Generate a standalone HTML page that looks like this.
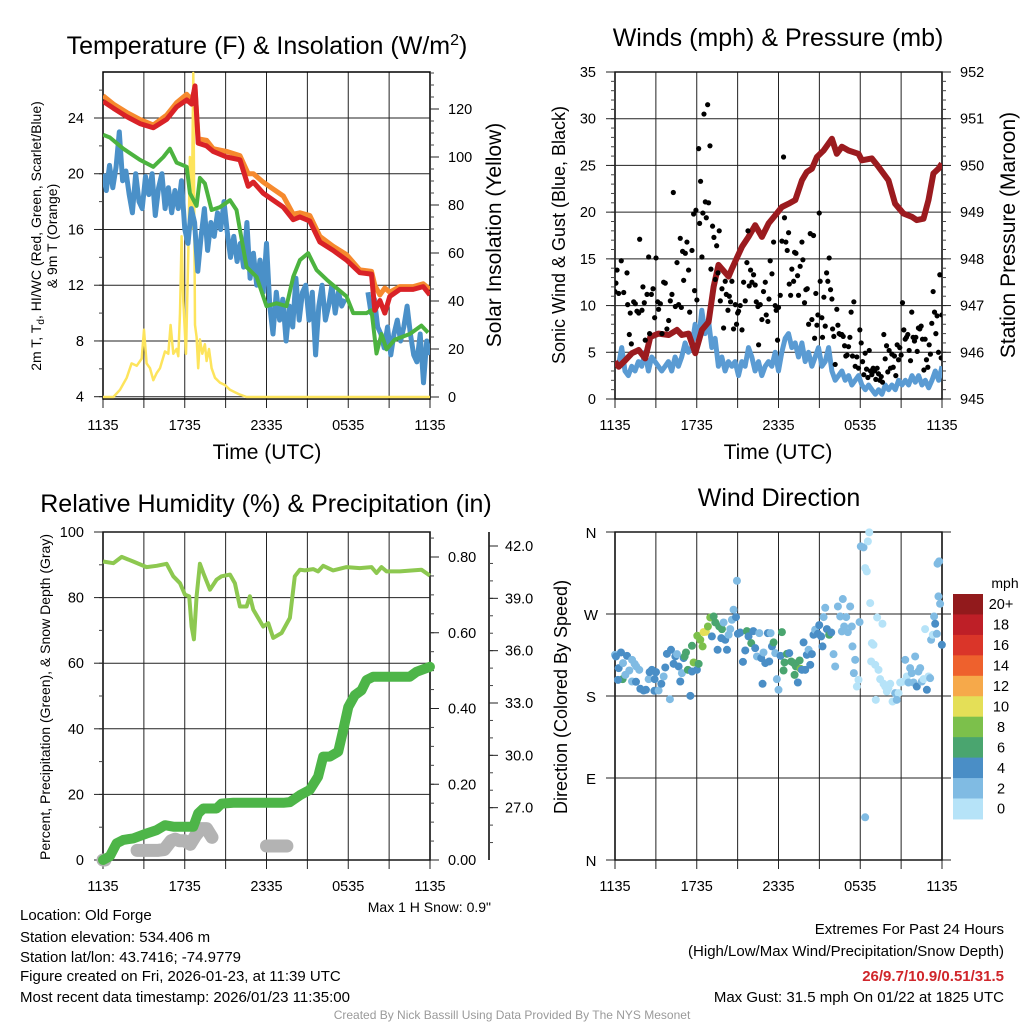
<!DOCTYPE html>
<html><head><meta charset="utf-8"><style>
body{margin:0;background:#fff}
svg{display:block;font-family:"Liberation Sans",Arial,sans-serif}
</style></head><body>
<svg id="c" width="1024" height="1024" viewBox="0 0 1024 1024">
<rect x="0" y="0" width="1024" height="1024" fill="#fff"/>
<text x="267" y="54" font-size="25" text-anchor="middle">Temperature (F) &amp; Insolation (W/m<tspan dy="-9" font-size="16">2</tspan><tspan dy="9">)</tspan></text>
<text x="778" y="46" font-size="25" text-anchor="middle">Winds (mph) &amp; Pressure (mb)</text>
<text x="266" y="512" font-size="25" text-anchor="middle">Relative Humidity (%) &amp; Precipitation (in)</text>
<text x="779" y="506" font-size="25" text-anchor="middle">Wind Direction</text>
<text x="267" y="459" font-size="21" text-anchor="middle">Time (UTC)</text>
<text x="778" y="459" font-size="21" text-anchor="middle">Time (UTC)</text>
<g transform="translate(41,236) rotate(-90)">
<text x="0" y="0" font-size="14" text-anchor="middle">2m T, T<tspan font-size="10" dy="3">d</tspan><tspan dy="-3">, HI/WC (Red, Green, Scarlet/Blue)</tspan></text>
<text x="0" y="16" font-size="14" text-anchor="middle">&amp; 9m T (Orange)</text></g>
<text transform="translate(501,235) rotate(-90)" font-size="21" text-anchor="middle">Solar Insolation (Yellow)</text>
<text transform="translate(565,235) rotate(-90)" font-size="18" text-anchor="middle">Sonic Wind &amp; Gust (Blue, Black)</text>
<text transform="translate(1015,235) rotate(-90)" font-size="21" text-anchor="middle">Station Pressure (Maroon)</text>
<text transform="translate(50,697) rotate(-90)" font-size="14" text-anchor="middle">Percent, Precipitation (Green), &amp; Snow Depth (Gray)</text>
<text transform="translate(567,697) rotate(-90)" font-size="18" text-anchor="middle">Direction (Colored By Speed)</text>
<text x="1005" y="588" font-size="14" text-anchor="middle">mph</text>
<text x="491" y="912" font-size="14" text-anchor="end">Max 1 H Snow: 0.9"</text>
<g font-size="15">
<text x="20" y="920">Location: Old Forge</text>
<text x="20" y="942">Station elevation: 534.406 m</text>
<text x="20" y="962">Station lat/lon: 43.7416; -74.9779</text>
<text x="20" y="981">Figure created on Fri, 2026-01-23, at 11:39 UTC</text>
<text x="20" y="1002">Most recent data timestamp: 2026/01/23 11:35:00</text>
</g>
<g font-size="15" text-anchor="end">
<text x="1004" y="934">Extremes For Past 24 Hours</text>
<text x="1004" y="956">(High/Low/Max Wind/Precipitation/Snow Depth)</text>
<text x="1004" y="981" font-weight="bold" fill="#d0262b">26/9.7/10.9/0.51/31.5</text>
<text x="1004" y="1002">Max Gust: 31.5 mph On 01/22 at 1825 UTC</text>
</g>
<text x="512" y="1019" font-size="12" fill="#9a9a9a" text-anchor="middle">Created By Nick Bassill Using Data Provided By The NYS Mesonet</text>
</svg>
<script>
// ---- Panel 1 data ----
const timeTickLabels=["1135","1735","2335","0535","1135"];
const tempTicks=[4,8,12,16,20,24];
const solarTicks=[0,20,40,60,80,100,120];
const redTimes=[0,0.76,1.74,2.71,3.69,4.67,5.40,6.14,6.50,6.75,6.99,7.60,8.09,9.07,10.05,10.66,11.03,11.76,12.49,13.23,13.96,14.45,15.18,15.92,16.89,17.87,18.85,19.71,19.95,20.32,20.68,21.05,21.78,22.76,23.50,23.99];
const redTemp=[25.2,24.7,24.1,23.6,23.3,23.9,24.8,25.3,25.0,26.3,22.2,22.0,21.6,21.2,21.0,19.1,19.4,18.6,18.1,17.6,16.7,16.9,16.6,15.1,14.5,13.8,12.9,12.8,10.2,10.9,10.0,11.2,11.7,11.7,11.9,11.3];
const orangeTemp=[25.6,25.0,24.4,23.9,23.5,24.2,25.1,25.7,25.3,26.1,22.5,22.4,21.8,21.6,21.3,20.0,20.0,19.4,18.9,18.4,17.1,17.2,17.0,15.5,14.8,14.2,13.1,13.0,12.0,11.3,11.8,11.5,11.9,11.9,12.1,11.7];
const greenTimes=[0,0.51,1.49,2.71,3.69,4.43,4.91,5.40,6.14,6.38,6.87,7.11,7.48,7.97,8.58,9.32,9.80,10.05,10.54,11.27,12.00,12.74,13.47,13.96,14.45,15.06,15.67,16.41,16.89,17.87,18.36,19.34,19.71,20.07,20.44,20.81,21.42,22.52,23.37,23.86];
const greenTemp=[22.8,22.6,21.8,21.0,20.5,21.2,21.8,20.8,20.5,18.6,17.7,19.7,19.3,17.4,17.6,18.1,17.4,16.0,13.3,12.6,10.5,10.7,10.5,12.6,13.8,14.3,13.1,12.4,12.0,11.2,10.0,10.0,10.2,7.1,8.5,7.4,8.1,8.5,9.1,8.6];
const blueStepHours=0.24;
const blueTemp=[20.0,18.8,20.6,19.0,20.5,23.0,19.5,20.2,18.5,17.2,20.0,18.0,17.5,19.8,18.5,20.0,17.0,19.0,20.0,17.5,19.0,17.2,18.8,17.5,19.5,16.0,15.0,17.5,16.5,13.0,15.5,17.5,14.5,16.5,15.5,17.2,16.0,18.0,15.8,14.0,15.5,13.7,15.0,13.3,16.5,12.5,14.3,12.0,13.8,11.5,15.0,10.5,8.5,11.5,9.5,11.0,8.0,10.5,9.0,12.5,9.5,11.5,12.0,9.5,11.5,7.0,10.5,12.0,9.5,10.5,12.0,10.0,11.5,10.5,11.0,null,null,null,null,null,null,11.5,10.0,11.0,9.0,8.5,7.5,9.0,7.0,8.5,9.5,8.0,9.0,10.5,8.5,7.0,6.5,8.5,5.0,8.0,7.0];
const solarTimes=[0,0.76,1.25,1.74,2.10,2.47,2.84,3.01,3.20,3.45,3.69,3.94,4.18,4.55,4.79,4.96,5.16,5.40,5.53,5.65,5.77,5.89,6.09,6.26,6.38,6.50,6.63,6.75,6.87,6.99,7.11,7.29,7.48,7.60,7.78,7.97,8.22,8.58,8.95,9.32,9.68,10.05,10.54,24];
const solarValues=[0,0,3,8,14,13,16,28,14,12,7,10,12,19,18,30,18,20,17,35,67,40,18,60,100,70,135,30,25,12,24,18,22,15,20,12,8,6,5,3,2,1,0,0];
// ---- Panel 2 data ----
const windTicks=[0,5,10,15,20,25,30,35];
const pressTicks=[945,946,947,948,949,950,951,952];
const pressTimes=[0,0.27,0.76,1.25,1.74,2.10,2.22,2.59,3.20,3.94,4.55,4.91,5.40,5.89,6.38,6.87,7.24,7.60,8.34,8.58,9.32,9.80,10.29,10.78,11.27,11.76,12.25,12.74,13.23,13.72,14.08,14.45,14.82,15.31,15.92,16.28,16.65,17.14,17.87,18.12,18.85,19.34,20.07,20.56,21.17,21.78,22.15,22.64,23.01,23.37,23.74,23.99];
const pressValues=[945.80,945.69,945.83,945.98,946.05,945.91,945.87,946.33,946.40,946.37,946.48,946.37,946.40,945.98,946.48,946.65,947.40,947.87,947.62,947.79,948.26,948.47,948.72,948.47,948.76,948.93,949.11,949.18,949.26,949.68,949.86,949.93,950.18,950.32,950.57,950.25,950.40,950.32,950.25,950.11,950.15,949.97,949.68,949.18,948.97,948.90,948.83,948.86,949.26,949.83,949.93,950.04];
const sonicWind=[4.0,3.5,5.5,3.0,2.5,3.5,3.0,4.0,3.5,5.0,3.0,4.5,4.0,3.5,3.0,3.5,4.0,3.0,4.5,3.5,4.5,6.0,5.0,5.5,8.0,6.0,9.5,7.0,8.5,5.5,6.5,3.5,4.5,3.0,4.0,3.5,4.0,2.5,4.0,3.5,5.5,4.5,3.0,4.0,2.5,3.5,4.0,3.5,5.0,3.0,5.0,6.5,7.0,5.5,6.0,4.5,6.0,4.0,5.0,3.5,4.5,5.5,3.5,4.0,5.5,3.0,2.0,2.5,3.0,2.0,2.5,1.5,2.0,2.5,1.5,1.0,1.5,1.0,0.5,1.0,0.5,1.5,1.0,1.5,1.0,2.0,1.5,2.0,1.5,2.5,1.8,2.5,1.5,2.0,1.2,2.0,3.0,2.0,3.5];
const gustTimes=[0,0.07,0.15,0.27,0.46,0.64,0.88,0.93,1.05,1.12,1.20,1.37,1.49,1.61,1.74,1.81,1.98,2.05,2.15,2.22,2.35,2.47,2.54,2.67,2.79,2.91,3.01,3.13,3.20,3.33,3.45,3.57,3.69,3.81,3.94,4.06,4.18,4.28,4.43,4.55,4.67,4.79,4.87,4.96,5.04,5.16,5.28,5.40,5.48,5.65,5.77,5.84,5.94,6.01,6.14,6.21,6.28,6.38,6.45,6.53,6.63,6.70,6.80,6.87,6.97,7.04,7.16,7.26,7.36,7.46,7.56,7.65,7.73,7.85,7.97,8.09,8.17,8.29,8.39,8.48,8.58,8.70,8.83,8.92,9.00,9.07,9.19,9.32,9.44,9.56,9.68,9.76,9.85,9.95,10.05,10.17,10.29,10.37,10.49,10.54,10.66,10.78,10.90,11.03,11.10,11.22,11.30,11.39,11.52,11.64,11.76,11.83,11.93,12.00,12.13,12.25,12.37,12.44,12.54,12.64,12.74,12.79,12.89,12.98,13.11,13.18,13.28,13.40,13.47,13.59,13.72,13.79,13.91,14.01,14.11,14.21,14.33,14.45,14.57,14.65,14.74,14.82,14.89,14.99,15.06,15.18,15.23,15.33,15.43,15.53,15.62,15.72,15.82,15.92,15.97,16.06,16.16,16.28,16.36,16.45,16.55,16.65,16.75,16.85,16.94,17.04,17.14,17.24,17.33,17.43,17.53,17.63,17.75,17.87,17.97,18.07,18.17,18.26,18.36,18.46,18.56,18.66,18.75,18.85,18.95,19.05,19.14,19.24,19.34,19.44,19.54,19.63,19.73,19.83,19.93,20.02,20.12,20.22,20.32,20.42,20.51,20.61,20.71,20.81,20.90,21.00,21.10,21.20,21.30,21.39,21.49,21.59,21.69,21.78,21.88,21.98,22.08,22.18,22.27,22.37,22.47,22.57,22.67,22.76,22.86,22.96,23.06,23.15,23.25,23.35,23.45,23.55,23.64,23.74,23.84,23.94,23.99];
const gustValues=[11.5,12.4,13.8,11.3,14.8,11.4,13.5,10.1,6.9,9.2,5.9,10.4,10.2,9.4,9.2,17.1,9.5,12.0,10.3,6.3,11.2,15.2,7.0,11.2,11.8,8.7,15.1,10.4,9.6,10.2,7.0,12.5,12.4,7.5,8.4,10.5,11.2,22.1,9.9,14.6,10.1,17.2,9.8,15.8,12.7,15.6,16.8,13.8,9.3,15.9,19.8,11.6,20.2,10.6,26.8,18.8,23.3,15.2,19.9,30.5,21.1,19.4,31.5,21.0,27.1,13.9,18.5,17.3,12.8,16.4,13.5,18.0,10.5,11.8,7.6,12.6,11.2,9.5,11.0,10.4,12.6,7.5,10.1,8.0,9.2,9.4,10.0,7.4,12.5,10.5,14.6,18.0,12.1,13.8,12.5,13.3,12.2,10.4,9.9,5.8,10.1,8.5,11.5,12.5,9.0,8.3,10.7,14.8,13.4,16.8,10.0,9.5,6.3,9.8,11.1,16.9,25.9,19.4,16.8,15.9,17.8,12.3,11.1,13.9,12.6,15.7,15.6,13.2,11.1,14.2,16.8,14.9,10.3,11.7,11.8,8.0,17.7,8.5,17.5,6.5,11.3,7.9,9.0,19.9,12.6,8.7,6.6,10.9,7.8,13.5,12.6,15.1,11.7,10.7,7.5,6.7,3.7,9.6,7.9,7.0,6.9,6.9,6.7,5.7,4.6,4.7,5.6,6.6,9.3,4.6,10.4,3.5,4.5,3.3,7.4,6.0,4.0,2.6,4.9,3.2,2.3,5.2,3.0,2.6,3.3,3.0,2.1,3.3,2.7,2.0,2.4,1.8,6.9,4.3,5.7,2.9,5.2,3.3,4.8,3.4,4.6,2.5,5.8,4.2,5.5,4.7,10.3,7.4,6.4,6.6,6.9,5.2,4.1,9.3,6.6,6.2,6.6,5.1,7.6,7.5,7.8,6.4,3.1,6.4,4.2,3.4,5.8,4.8,8.1,11.5,9.3,7.0,8.9,5.0,13.3,4.4,9.0];
// ---- Panel 3 data ----
const rhTicks=[0,20,40,60,80,100];
const precipTicks=[0,0.2,0.4,0.6,0.8];
const snowTicks=[27,30,33,36,39,42];
const rhTimes=[0,0.76,1.37,2.22,3.20,3.94,4.67,5.16,5.65,6.01,6.33,6.50,6.67,6.87,7.11,7.36,7.85,8.34,8.70,9.32,9.68,10.05,10.54,10.78,11.03,11.76,12.13,12.49,13.11,13.72,14.08,14.45,14.82,15.43,15.79,16.16,16.89,17.87,18.85,19.71,20.07,20.44,20.81,21.78,23.37,23.99];
const rhValues=[91.0,90.5,92.4,91.0,89.3,89.7,90.3,86.5,84.4,80.9,80.4,71.2,67.3,80.4,90.3,87.5,82.4,85.5,86.5,87.0,84.4,77.3,77.3,80.4,76.3,71.2,72.2,67.7,69.2,73.8,86.5,88.5,88.3,88.7,88.0,89.7,88.3,89.3,89.0,89.3,87.5,89.3,88.0,88.0,88.5,86.7];
const precipTimes=[0,0.51,1.0,1.49,2.22,3.20,3.94,4.55,5.16,6.63,6.99,7.36,8.34,8.70,9.56,13.23,13.72,14.45,15.18,15.79,16.16,16.65,17.26,17.63,18.0,18.48,18.97,19.34,19.83,22.52,23.01,23.99];
const precipValues=[0,0.01,0.044,0.053,0.057,0.070,0.079,0.092,0.088,0.088,0.123,0.136,0.136,0.149,0.151,0.151,0.153,0.171,0.185,0.220,0.273,0.273,0.286,0.343,0.404,0.435,0.448,0.475,0.484,0.484,0.497,0.510];
const snowTimes=[0,0.15,null,2.5,3.0,3.5,4.0,4.5,5.0,5.3,5.6,6.0,6.4,6.8,7.2,7.6,8.0,null,12.0,12.5,13.0,13.5,null,23.9];
const snowDepth=[24.0,24.0,null,24.55,24.55,24.55,24.55,24.6,25.1,25.2,25.1,25.1,24.9,25.4,25.8,25.8,25.3,null,24.8,24.8,24.8,24.8,null,31.5];
// ---- Panel 4 data ----
const dirTickLabels=["N","E","S","W","N"];
const dirTicks=[0,90,180,270,360];
const speedBinLabels=["0","2","4","6","8","10","12","14","16","18","20+"];
const speedBinColors=["#b6e3f8","#80bbe3","#4a8ec6","#4aa56f","#7cc04b","#e4df57","#f6a94a","#ee612d","#da3529","#be1f27","#921a1c"];
const dirTimes=[0,0.07,0.27,0.44,0.59,0.88,1.05,1.25,1.44,1.56,1.78,0.56,0.22,0.76,1.25,1.54,1.86,2.10,2.27,2.47,2.54,2.71,2.91,3.01,2.89,3.20,3.40,3.57,3.69,3.81,4.11,4.03,4.30,4.43,4.55,4.67,4.79,4.91,5.04,5.11,5.21,5.35,5.53,5.65,5.65,5.77,6.01,6.14,6.04,6.26,6.43,6.50,6.67,6.82,6.99,7.11,7.24,7.36,7.53,7.65,7.80,7.85,7.97,8.09,8.22,8.34,8.46,8.58,8.70,8.88,8.95,9.02,9.19,9.39,9.56,9.68,9.80,10.00,10.15,10.29,10.42,10.59,10.73,10.83,10.90,11.03,11.22,11.32,11.42,11.52,11.64,11.76,11.88,12.00,12.15,12.25,12.37,12.44,12.62,12.79,12.93,13.11,13.18,13.28,13.42,13.55,13.62,13.72,13.84,13.96,14.08,14.21,14.33,14.45,14.57,14.69,14.89,14.99,15.13,15.23,15.31,15.43,15.55,15.72,15.87,16.04,16.16,16.36,16.53,16.65,16.72,16.82,16.97,17.09,17.26,17.38,17.43,17.53,17.63,17.75,17.87,17.95,18.04,18.24,18.36,18.48,18.56,18.66,18.73,18.85,18.97,18.80,19.10,19.14,19.24,19.34,19.46,19.63,19.71,19.83,19.95,20.07,20.20,20.37,20.56,20.81,20.68,20.93,21.10,21.30,21.42,21.54,21.66,21.78,21.91,22.03,22.15,22.27,22.40,22.52,22.64,22.76,22.89,23.01,23.13,23.20,23.33,23.42,23.50,23.62,23.67,23.79,23.74,23.86,23.99,18.36];
const dirValues=[225.2,223.4,210.6,227.8,216.1,224.1,208.0,219.7,215.3,212.4,208.7,198.5,197.7,203.2,195.9,195.6,187.9,186.0,186.8,198.5,206.2,208.7,198.5,206.2,185.7,186.0,193.4,201.4,211.3,226.3,230.7,176.5,215.3,223.4,225.9,212.4,195.9,205.1,221.6,223.4,227.8,208.7,180.2,206.9,235.1,216.8,208.7,215.3,246.1,241.7,234.4,250.1,250.5,256.3,266.2,245.4,267.3,260.7,230.7,256.3,243.5,253.4,260.7,241.7,230.7,247.2,253.4,263.7,274.7,266.6,306.5,248.3,249.7,217.5,230.0,251.2,245.4,238.0,251.2,232.5,223.4,249.0,221.6,193.4,227.8,216.1,249.0,217.9,249.0,234.4,238.8,227.0,198.5,186.8,224.1,250.1,208.0,216.8,226.3,227.0,217.9,216.1,203.2,212.4,194.8,219.0,209.8,208.7,238.8,208.7,225.2,230.7,214.2,226.0,247.2,252.7,248.3,257.8,245.4,234.4,266.6,276.8,253.4,247.2,249.7,225.9,212.4,278.3,267.3,250.9,286.4,256.3,266.6,250.1,278.3,256.3,234.4,205.1,219.7,190.4,197.7,261.1,344.2,343.1,320.4,316.8,349.7,359.6,282.0,238.0,236.2,217.9,214.2,175.8,266.2,208.7,198.5,259.3,193.4,190.4,184.9,188.6,193.4,173.9,183.1,183.1,175.8,194.8,195.6,219.7,201.4,194.8,210.6,205.1,194.8,223.4,190.4,206.9,210.6,195.9,198.5,253.4,186.8,201.4,199.6,241.7,247.2,267.3,259.3,248.3,325.2,327.8,289.3,281.2,236.2,46.9];
const dirSpeeds=[3,5,5,5,3,5,3,3,3,3,3,7,5,3,3,5,5,5,5,3,5,5,5,5,5,3,5,3,5,5,5,3,5,5,3,5,5,3,5,7,7,7,5,5,7,9,5,7,9,9,9,11,11,9,9,5,7,7,5,7,5,7,3,5,5,3,3,3,3,5,3,5,5,5,5,7,5,7,5,5,3,3,5,5,3,5,5,5,3,5,7,3,3,3,5,7,7,7,7,5,7,7,7,7,5,7,9,5,5,5,5,3,5,5,5,3,5,5,5,5,3,3,5,7,5,3,3,3,3,3,3,3,3,3,3,3,3,3,3,1,1,3,3,3,1,1,1,1,1,1,1,1,1,1,1,1,1,1,1,1,1,1,1,1,3,1,3,1,1,3,1,3,3,3,3,3,5,3,3,3,1,1,5,1,3,3,1,3,5,3,3,3,3,3,5,3,3];

const svg=document.getElementById('c');
const NS='http://www.w3.org/2000/svg';
function make(tag,attrs,parent){const e=document.createElementNS(NS,tag);for(const k in attrs)e.setAttribute(k,attrs[k]);(parent||svg).appendChild(e);return e;}
function lin(d0,d1,r0,r1){return v=>r0+(v-d0)/(d1-d0)*(r1-r0);}
function group(name){const g=make('g',{});return g;}
function linePath(ts,vs,sx,sy){let d='',pen=false;for(let i=0;i<vs.length;i++){if(vs[i]==null||ts[i]==null){pen=false;continue;}d+=(pen?'L':'M')+sx(ts[i]).toFixed(1)+','+sy(vs[i]).toFixed(1);pen=true;}return d;}

function frame(x0,x1,y0,y1,name){
  const g=group(name);
  const sx=lin(0,24,x0,x1);
  for(let h=3;h<24;h+=3){const l=make('line',{x1:sx(h),x2:sx(h),y1:y0,y2:y1,stroke:'#222','stroke-width':1},g);}
  for(let h=0;h<=24;h+=3){const t=make('line',{x1:sx(h),x2:sx(h),y1:y1,y2:y1+9,stroke:'#222','stroke-width':1},g);}
  timeTickLabels.forEach((lab,i)=>{const t=make('text',{x:sx(i*6),y:y1+31,'font-size':14.5,'text-anchor':'middle'},g);t.textContent=lab;});
  const b=make('rect',{x:x0,y:y0,width:x1-x0,height:y1-y0,fill:'none',stroke:'#000','stroke-width':1.5},g);
  
  return sx;
}
function yAxis(g,ticks,minorStep,lo,hi,sy,x,side,grid,x0,x1,fmt,labelX,anchor){
  for(let v=lo;v<=hi+1e-9;v+=minorStep){const y=sy(v);const t=make('line',{x1:x,x2:x+side*4,y1:y,y2:y,stroke:'#444','stroke-width':1},g);}
  ticks.forEach(v=>{const y=sy(v);
    if(grid){const l=make('line',{x1:x0,x2:x1,y1:y,y2:y,stroke:'#222','stroke-width':1},g);}
    const t=make('line',{x1:x,x2:x+side*9,y1:y,y2:y,stroke:'#222','stroke-width':1},g);
    const tx=make('text',{x:labelX,y:y+5,'font-size':14.5,'text-anchor':anchor},g);tx.textContent=fmt(v);});
}

// ===== Panel 1 =====
(function(){
  const x0=103,x1=430,y0=72,y1=399;
  const sx=frame(x0,x1,y0,y1,'temperature-panel');
  const g=group('temperature-axes');
  const sT=lin(4,24,396.7,118), sS=lin(0,120,397,109);
  yAxis(g,tempTicks,2,4,26,sT,x0,-1,true,x0,x1,v=>String(v),84,'end');
  yAxis(g,solarTicks,5,0,135,sS,x1,1,false,0,0,v=>String(v),448,'start');
  const clip=make('clipPath',{id:'cp1'});make('rect',{x:x0,y:y0-2,width:x1-x0,height:y1-y0+2},clip);
  const s=group('temperature-series');s.setAttribute('clip-path','url(#cp1)');
  const yel=make('path',{d:linePath(solarTimes,solarValues,sx,sS),fill:'none',stroke:'#fde45c','stroke-width':2.5,'stroke-linejoin':'round'},s);
  
  const bt=blueTemp.map((v,i)=>i*blueStepHours);
  const blu=make('path',{d:linePath(bt,blueTemp,sx,sT),fill:'none',stroke:'#4a90c8','stroke-width':5,'stroke-linejoin':'round'},s);
  
  const grn=make('path',{d:linePath(greenTimes,greenTemp,sx,sT),fill:'none',stroke:'#4cb33f','stroke-width':4,'stroke-linejoin':'round'},s);
  
  const org=make('path',{d:linePath(redTimes,orangeTemp,sx,sT),fill:'none',stroke:'#f68a2e','stroke-width':5,'stroke-linejoin':'round'},s);
  
  const red=make('path',{d:linePath(redTimes,redTemp,sx,sT),fill:'none',stroke:'#d92227','stroke-width':5,'stroke-linejoin':'round'},s);
  
})();

// ===== Panel 2 =====
(function(){
  const x0=615,x1=942,y0=72,y1=399;
  const sx=frame(x0,x1,y0,y1,'winds-panel');
  const g=group('winds-axes');
  const sW=lin(0,35,399,72), sP=lin(945,952,399,72);
  yAxis(g,windTicks,1,0,35,sW,x0,-1,true,x0,x1,v=>String(v),596,'end');
  yAxis(g,pressTicks,0.2,945,952,sP,x1,1,false,0,0,v=>String(v),960,'start');
  const clip=make('clipPath',{id:'cp2'});make('rect',{x:x0,y:y0,width:x1-x0,height:y1-y0},clip);
  const s=group('winds-series');s.setAttribute('clip-path','url(#cp2)');
  const wt=sonicWind.map((v,i)=>i*24/(sonicWind.length-1));
  const bl=make('path',{d:linePath(wt,sonicWind,sx,sW),fill:'none',stroke:'#5a9bd3','stroke-width':5,'stroke-linejoin':'round'},s);
  
  const pr=make('path',{d:linePath(pressTimes,pressValues,sx,sP),fill:'none',stroke:'#9b1b1f','stroke-width':6,'stroke-linejoin':'round'},s);
  
  gustTimes.forEach((t,i)=>{const c=make('circle',{cx:sx(t),cy:sW(gustValues[i]),r:2.6,fill:'#000'},s);
    
    });
})();

// ===== Panel 3 =====
(function(){
  const x0=103,x1=430,y0=532,y1=860;
  const sx=frame(x0,x1,y0,y1,'humidity-panel');
  const g=group('humidity-axes');
  const sR=lin(0,100,860,532), sPr=lin(0,0.8,860,557), sSn=lin(24,42,860,546);
  yAxis(g,rhTicks,10,0,100,sR,x0,-1,true,x0,x1,v=>String(v),84,'end');
  yAxis(g,precipTicks,0.05,0,0.85,sPr,x1,1,false,0,0,v=>v.toFixed(2),448,'start');
  const ax=make('line',{x1:489,x2:489,y1:532,y2:860,stroke:'#000','stroke-width':1.5},g);
  
  yAxis(g,snowTicks,1,25,42,sSn,489,1,false,0,0,v=>v.toFixed(1),505,'start');
  const s=group('humidity-series');
  const sn=make('path',{d:linePath(snowTimes,snowDepth,sx,sSn),fill:'none',stroke:'#b3b3b3','stroke-width':13,'stroke-linecap':'round','stroke-linejoin':'round'},s);
  
  const pc=make('path',{d:linePath(precipTimes,precipValues,sx,sPr),fill:'none',stroke:'#4db548','stroke-width':10,'stroke-linecap':'round','stroke-linejoin':'round'},s);
  
  const rh=make('path',{d:linePath(rhTimes,rhValues,sx,sR),fill:'none',stroke:'#8dc850','stroke-width':4,'stroke-linejoin':'round'},s);
  
})();

// ===== Panel 4 =====
(function(){
  const x0=615,x1=942,y0=532,y1=860;
  const sx=frame(x0,x1,y0,y1,'wind-direction-panel');
  const g=group('direction-axes');
  const sD=lin(0,360,860,532);
  dirTicks.forEach((v,i)=>{const y=sD(v);
    const l=make('line',{x1:x0-9,x2:x1+9,y1:y,y2:y,stroke:'#222','stroke-width':1},g);
    const t=make('text',{x:591,y:y+6,'font-size':15,'text-anchor':'middle'},g);t.textContent=dirTickLabels[i];});
  const s=group('direction-points');
  function colorFor(sp){let k=Math.floor(sp/2);if(k>10)k=10;return speedBinColors[k];}
  dirTimes.forEach((t,i)=>{const c=make('circle',{cx:sx(t),cy:sD(dirValues[i]),r:4,fill:colorFor(dirSpeeds[i])},s);
    
    });
  const cb=group('speed-colorbar');
  const top=594,bh=20.45;
  speedBinLabels.forEach((lab,i)=>{const k=speedBinLabels.length-1-i;const y=top+i*bh;
    const r=make('rect',{x:953,y:y,width:30,height:bh+0.5,fill:speedBinColors[k]},cb);
    const t=make('text',{x:1001,y:y+bh/2+5,'font-size':14.5,'text-anchor':'middle'},cb);t.textContent=speedBinLabels[k];});
})();
</script>
</body></html>
